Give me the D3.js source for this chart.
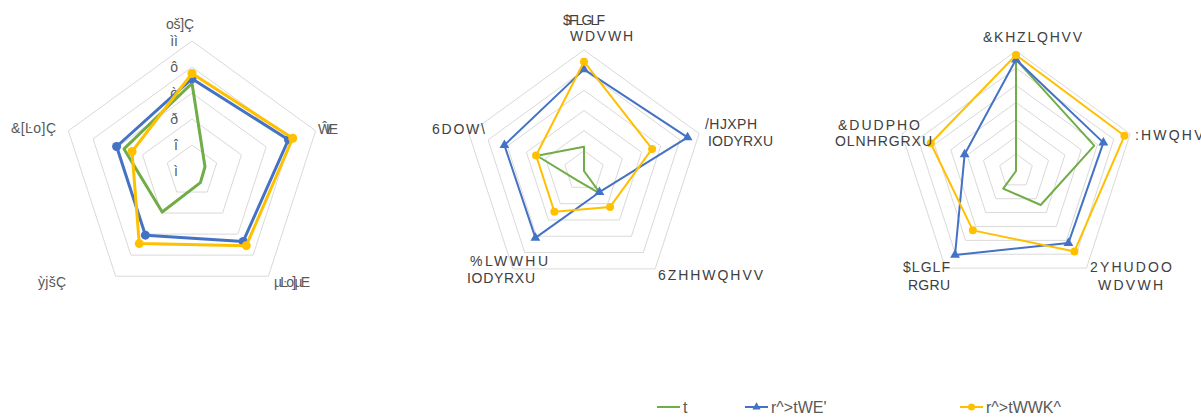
<!DOCTYPE html>
<html>
<head>
<meta charset="utf-8">
<script src="https://cdn.jsdelivr.net/npm/d3@7"></script>
<style>
  body { margin: 0; background: #fff; }
  svg { display: block; font-family: "Liberation Sans", Arial, sans-serif; }
</style>
</head>
<body>
<svg id="chart" width="1201" height="417"></svg>
<script>
// chart 1 (0-10)
const axes1 = ["oš]Ç", "ŴĿE", "µĿo]µE", "ỳjšÇ", "&[Ŀo]Ç"];
const ticks1 = ["ì", "î", "ð", "ò", "ô", "ìì"];
const green1 = [6.75, 1.05, 1.1, 3.9, 5.5];
const blue1 = [7.1, 7.8, 6.7, 6.1, 6.1];
const yellow1 = [7.5, 8.15, 7.1, 6.9, 4.85];

// chart 2 (0-6)
const axes2 = [["$FLGLF", "WDVWH"], ["/HJXPH", "IODYRXU"], ["6ZHHWQHVV"], ["%LWWHU", "IODYRXU"], ["6DOW\\"]];
const green2 = [1.2, 0, 1.4, 0.57, 2.45];
const blue2 = [5.04, 5.4, 1.3, 4.1, 4.15];
const yellow2 = [5.42, 3.55, 2.2, 2.5, 2.5];

// chart 3 (0-7)
const axes3 = [["&KHZLQHVV"], [":HWQHVV"], ["2YHUDOO", "WDVWH"], ["$LGLF", "RGRU"], ["&DUDPHO", "OLNHRGRXU"]];
const green3 = [6.5, 4.8, 2.45, 1.27, 0];
const blue3 = [6.5, 5.36, 5.2, 6.05, 3.15];
const yellow3 = [6.77, 6.65, 5.8, 4.28, 5.23];

const seriesNames = ["t", "r^>tWE'", "r^>tWWK^"];
const colors = ["#70AD47", "#4472C4", "#FFC000"];

const svg = d3.select("#chart");

// label layout: [x, y, width] per line
const labelPos1 = [[[166, 24, 28]], [[318, 129, 20]], [[274, 282, 36]], [[38, 282, 28]], [[11, 128, 45]]];
const labelPos2 = [
  [[563, 20, 42], [570, 36, 63]],
  [[705, 124, 52], [708, 141, 65]],
  [[658, 275, 105]],
  [[470, 261, 78], [467, 278, 68]],
  [[432, 129, 53]]
];
const labelPos3 = [
  [[983, 37, 99]],
  [[1135, 135, 80]],
  [[1090, 267, 82], [1098, 285, 65]],
  [[903, 267, 47], [908, 285, 42]],
  [[838, 125, 82], [835, 141, 97]]
];

function radar(cfg) {
  const g = svg.append("g").attr("transform", `translate(${cfg.cx},${cfg.cy})`);
  const r = d3.scaleLinear().domain([0, cfg.max]).range([0, cfg.R]);
  const angle = i => i * 2 * Math.PI / 5;

  const ring = d3.lineRadial().curve(d3.curveLinearClosed);
  d3.range(1, cfg.max / cfg.step + 1).forEach(k => {
    const v = k * cfg.step;
    g.append("path")
      .attr("d", ring([0, 1, 2, 3, 4].map(i => [angle(i), r(v)])))
      .attr("fill", "none")
      .attr("stroke", "#D9D9D9")
      .attr("stroke-width", 1);
  });

  if (cfg.ticks) {
    cfg.ticks.forEach((t, k) => {
      g.append("text")
        .attr("x", -14)
        .attr("y", -r(k * cfg.step))
        .attr("dy", "0.35em")
        .attr("text-anchor", "end")
        .attr("font-size", 14)
        .attr("fill", "#595959")
        .text(t);
    });
  }

  const line = d3.lineRadial()
    .angle((d, i) => angle(i))
    .radius(d => r(d))
    .curve(d3.curveLinearClosed);

  cfg.series.forEach((s, si) => {
    g.append("path")
      .attr("d", line(s))
      .attr("fill", "none")
      .attr("stroke", colors[si])
      .attr("stroke-width", cfg.lw)
      .attr("stroke-linejoin", "round");
    if (si === 0) return;
    s.forEach((d, i) => {
      const x = r(d) * Math.sin(angle(i));
      const y = -r(d) * Math.cos(angle(i));
      if (cfg.triangles && si === 1) {
        g.append("path")
          .attr("d", d3.symbol(d3.symbolTriangle, 42)())
          .attr("transform", `translate(${x},${y})`)
          .attr("fill", colors[si]);
      } else {
        g.append("circle")
          .attr("cx", x).attr("cy", y)
          .attr("r", cfg.markerR)
          .attr("fill", colors[si]);
      }
    });
  });

  cfg.labels.forEach((lab, i) => {
    const lines = Array.isArray(lab) ? lab : [lab];
    lines.forEach((txt, j) => {
      const p = cfg.labelPos[i][j];
      svg.append("text")
        .attr("x", p[0])
        .attr("y", p[1])
        .attr("dy", "0.35em")
        .attr("font-size", cfg.fontSize)
        .attr("fill", cfg.labelColor)
        .attr("textLength", p[2])
        .attr("lengthAdjust", "spacing")
        .text(txt);
    });
  });
}

radar({ cx: 192, cy: 171, R: 130, max: 10, step: 2, ticks: ticks1, lw: 3, markerR: 4.5,
  series: [green1, blue1, yellow1], labels: axes1, labelPos: labelPos1, fontSize: 14, labelColor: "#595959" });
radar({ cx: 584, cy: 171, R: 121, max: 6, step: 1, lw: 2, markerR: 4, triangles: true,
  series: [green2, blue2, yellow2], labels: axes2, labelPos: labelPos2, fontSize: 14, labelColor: "#404040" });
radar({ cx: 1016, cy: 171, R: 120, max: 7, step: 1, lw: 2, markerR: 4, triangles: true,
  series: [green3, blue3, yellow3], labels: axes3, labelPos: labelPos3, fontSize: 14, labelColor: "#404040" });

// legend
const legendX = [657, 745, 960];
const legend = svg.append("g").attr("transform", "translate(0,407)");
seriesNames.forEach((name, i) => {
  const x = legendX[i];
  legend.append("line")
    .attr("x1", x).attr("x2", x + 23)
    .attr("stroke", colors[i]).attr("stroke-width", 2);
  if (i === 1) {
    legend.append("path")
      .attr("d", d3.symbol(d3.symbolTriangle, 30)())
      .attr("transform", `translate(${x + 11.5},0)`)
      .attr("fill", colors[i]);
  } else if (i === 2) {
    legend.append("circle").attr("cx", x + 11.5).attr("r", 3.5).attr("fill", colors[i]);
  }
  legend.append("text")
    .attr("x", x + 26)
    .attr("dy", "0.35em")
    .attr("font-size", 16)
    .attr("fill", "#595959")
    .text(name);
});
</script>
</body>
</html>
